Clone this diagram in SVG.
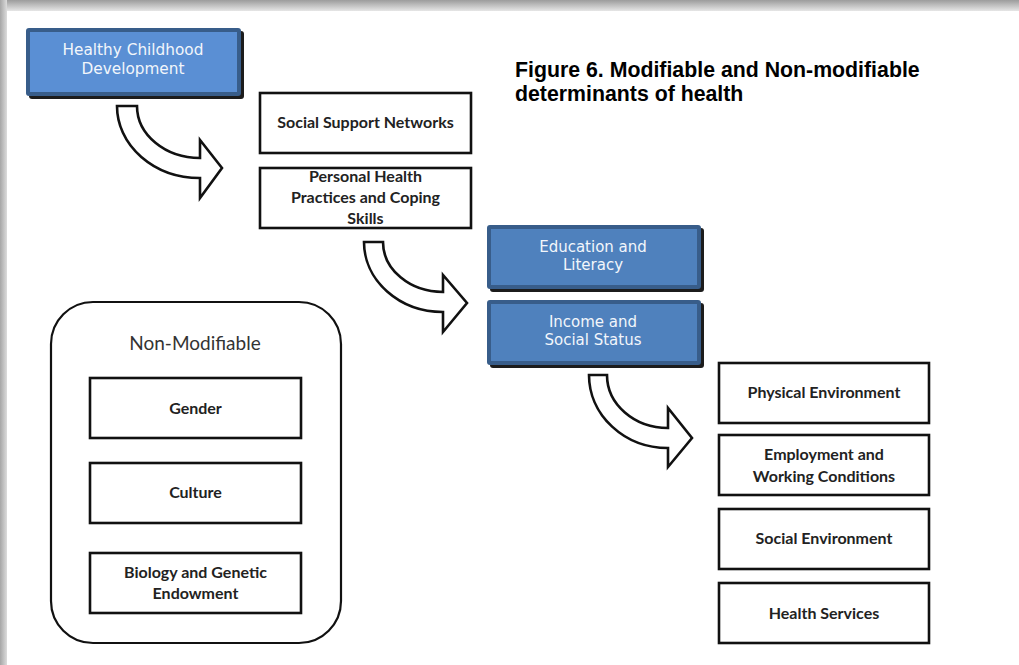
<svg xmlns="http://www.w3.org/2000/svg" width="1019" height="665" viewBox="0 0 1019 665">
  <defs>
    <linearGradient id="edgeTop" x1="0" y1="0" x2="0" y2="1">
      <stop offset="0" stop-color="#9c9c9c"/>
      <stop offset="1" stop-color="#e6e6e6"/>
    </linearGradient>
    <linearGradient id="edgeLeft" x1="0" y1="0" x2="1" y2="0">
      <stop offset="0" stop-color="#a6a6a6"/>
      <stop offset="1" stop-color="#dcdcdc"/>
    </linearGradient>
    <style>
      .blueOuter { fill: #385d8a; }
      .blueShadow { fill: #1c1c1c; }
      .blueText { font-family: "DejaVu Sans", Verdana, sans-serif; font-size: 15px; fill: #f2f6fb; text-anchor: middle; }
      .box { fill: #ffffff; stroke: #111111; stroke-width: 2.6; }
      .boxText { font-family: Lato, "Open Sans", sans-serif; font-weight: bold; font-size: 16px; fill: #222222; text-anchor: middle; }
      .arrow { fill: #ffffff; stroke: #111111; stroke-width: 2.6; stroke-linejoin: miter; }
      .title { font-family: "Liberation Sans", Arial, sans-serif; font-weight: bold; font-size: 21.3px; fill: #000000; }
    </style>
  </defs>

  <!-- page background and soft edge shading -->
  <rect x="0" y="0" width="1019" height="665" fill="#ffffff"/>
  <rect x="0" y="0" width="1019" height="11" fill="url(#edgeTop)"/>
  <rect x="0" y="0" width="7" height="665" fill="url(#edgeLeft)"/>

  <!-- caption -->
  <text class="title" x="515" y="77">Figure 6. Modifiable and Non-modifiable</text>
  <text class="title" x="515" y="101">determinants of health</text>

  <!-- curved block arrows -->
  <g id="connectors">
    <path class="arrow" d="M117,106 L137,106 A63,52 0 0 0 200,158 L200,140 L222,168 L200,198 L200,178 A83,72 0 0 1 117,106 Z"/>
    <path class="arrow" d="M364,242 L383,242 A60,50 0 0 0 443,292 L443,275 L467,303 L443,332 L443,312 A79,70 0 0 1 364,242 Z"/>
    <path class="arrow" d="M589,375 L607,375 A61,53 0 0 0 668,428 L668,408 L692,438 L668,467 L668,448 A79,73 0 0 1 589,375 Z"/>
  </g>

  <!-- blue nodes -->
  <g id="healthy-childhood">
    <rect class="blueShadow" x="29" y="31" width="215" height="68" rx="3"/>
    <rect class="blueOuter" x="26" y="28" width="215" height="68" rx="3"/>
    <rect x="30" y="32" width="207" height="60" fill="#5a8fd4"/>
    <text class="blueText" x="133" y="54.5" style="font-size:15.3px">Healthy Childhood</text>
    <text class="blueText" x="133" y="73.5" style="font-size:15.3px">Development</text>
  </g>

  <g id="education-literacy">
    <rect class="blueShadow" x="490" y="228" width="214" height="64" rx="3"/>
    <rect class="blueOuter" x="487" y="225" width="214" height="64" rx="3"/>
    <rect x="491" y="229" width="206" height="56" fill="#4f81bd"/>
    <text class="blueText" x="593" y="252">Education and</text>
    <text class="blueText" x="593" y="269.5">Literacy</text>
  </g>

  <g id="income-status">
    <rect class="blueShadow" x="490" y="303" width="214" height="65" rx="3"/>
    <rect class="blueOuter" x="487" y="300" width="214" height="65" rx="3"/>
    <rect x="491" y="304" width="206" height="57" fill="#4f81bd"/>
    <text class="blueText" x="593" y="327">Income and</text>
    <text class="blueText" x="593" y="344.5">Social Status</text>
  </g>

  <!-- white nodes, upper group -->
  <g id="social-support">
    <rect class="box" x="260" y="93" width="211" height="60"/>
    <text class="boxText" x="365.5" y="128">Social Support Networks</text>
  </g>

  <g id="personal-health">
    <rect class="box" x="260" y="168" width="211" height="60"/>
    <text class="boxText" x="365.5" y="182">Personal Health</text>
    <text class="boxText" x="365.5" y="203">Practices and Coping</text>
    <text class="boxText" x="365.5" y="224">Skills</text>
  </g>

  <!-- white nodes, right column -->
  <g id="physical-environment">
    <rect class="box" x="719" y="363" width="210" height="60"/>
    <text class="boxText" x="824" y="398">Physical Environment</text>
  </g>

  <g id="employment">
    <rect class="box" x="719" y="435" width="210" height="60"/>
    <text class="boxText" x="824" y="460">Employment and</text>
    <text class="boxText" x="824" y="481.5">Working Conditions</text>
  </g>

  <g id="social-environment">
    <rect class="box" x="719" y="509" width="210" height="60"/>
    <text class="boxText" x="824" y="544">Social Environment</text>
  </g>

  <g id="health-services">
    <rect class="box" x="719" y="583" width="210" height="60"/>
    <text class="boxText" x="824" y="619">Health Services</text>
  </g>

  <!-- non-modifiable container -->
  <g id="non-modifiable">
    <rect x="51" y="302" width="290" height="341" rx="42" ry="42" fill="#ffffff" stroke="#111111" stroke-width="2.2"/>
    <text x="195" y="350" font-family="Lato, 'Open Sans', sans-serif" font-size="19" fill="#333333" text-anchor="middle">Non-Modifiable</text>
  </g>

  <g id="gender">
    <rect class="box" x="90" y="378" width="211" height="60"/>
    <text class="boxText" x="195.5" y="414">Gender</text>
  </g>

  <g id="culture">
    <rect class="box" x="90" y="463" width="211" height="60"/>
    <text class="boxText" x="195.5" y="498">Culture</text>
  </g>

  <g id="biology">
    <rect class="box" x="90" y="553" width="211" height="60"/>
    <text class="boxText" x="195.5" y="578">Biology and Genetic</text>
    <text class="boxText" x="195.5" y="599">Endowment</text>
  </g>
</svg>
